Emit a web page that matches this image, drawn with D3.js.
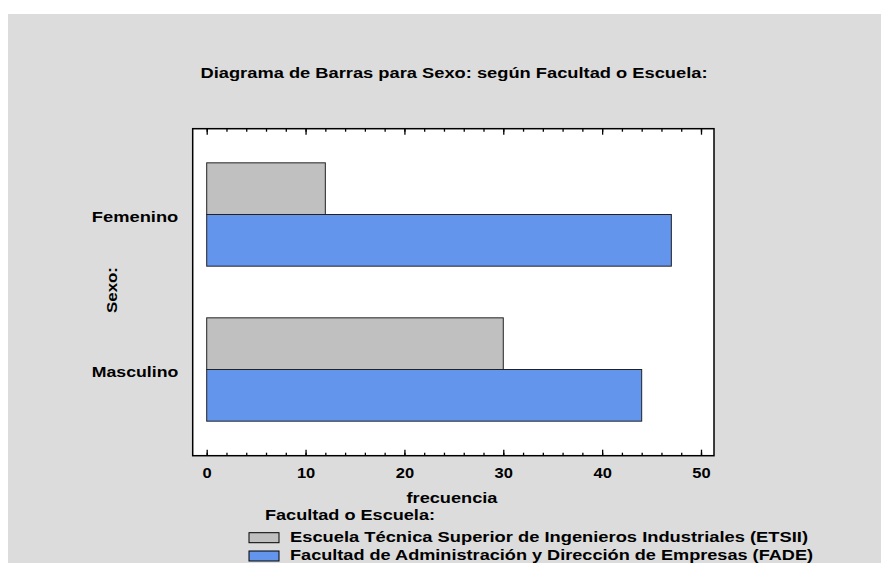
<!DOCTYPE html>
<meta charset='utf-8'>
<style>
body { margin: 0; background: #fff; }
svg text { font-family: 'Liberation Sans', Arial, sans-serif; font-weight: bold; fill: #000; }
</style>
<div id='chart'></div>
<script src='https://d3js.org/d3.v7.min.js'></script>
<script>
  // data
  var sexos = ['Femenino', 'Masculino'];
  var escuelas = ['Escuela Técnica Superior de Ingenieros Industriales (ETSII)',
                  'Facultad de Administración y Dirección de Empresas (FADE)'];
  var etsii = [12, 30];
  var fade = [47, 44];
  var majorTicks = [0, 10, 20, 30, 40, 50];
  var colores = ['#c0c0c0', '#6495ed'];

  var W = 881, H = 563;
  var frame = {left: 192.7, top: 128.7, right: 714, bottom: 455.7};

  var svg = d3.select('#chart').append('svg')
    .attr('width', W).attr('height', H);

  svg.append('rect')
    .attr('x', 8).attr('y', 14)
    .attr('width', W - 8).attr('height', H - 14)
    .attr('fill', '#dcdcdc');

  svg.append('rect')
    .attr('x', frame.left).attr('y', frame.top)
    .attr('width', frame.right - frame.left)
    .attr('height', frame.bottom - frame.top)
    .attr('fill', '#fff');

  var x = d3.scaleLinear().domain([0, 50]).range([206.7, 701]);
  var y0 = d3.scaleBand().domain(sexos).range([137, 447])
    .paddingInner(1/3).paddingOuter(1/6);
  var y1 = d3.scaleBand().domain(escuelas).range([0, y0.bandwidth()]);

  var rows = [];
  sexos.forEach(function(s, i) {
    rows.push({sexo: s, escuela: escuelas[0], v: etsii[i]});
    rows.push({sexo: s, escuela: escuelas[1], v: fade[i]});
  });

  svg.append('g').selectAll('rect')
    .data(rows)
    .enter().append('rect')
      .attr('x', x(0))
      .attr('y', function(d) { return y0(d.sexo) + y1(d.escuela); })
      .attr('width', function(d) { return x(d.v) - x(0); })
      .attr('height', y1.bandwidth())
      .attr('fill', function(d) { return colores[escuelas.indexOf(d.escuela)]; })
      .attr('stroke', '#222')
      .attr('stroke-width', 1);

  // ticks
  var minor = d3.range(0, 51, 2);
  var bottomMinor = svg.append('g')
    .attr('transform', 'translate(0,' + frame.bottom + ')')
    .call(d3.axisBottom(x).tickValues(minor).tickSize(-3).tickFormat(''));
  var bottomMajor = svg.append('g')
    .attr('transform', 'translate(0,' + frame.bottom + ')')
    .call(d3.axisBottom(x).tickValues(majorTicks).tickSize(-6).tickPadding(11.5));
  var topMinor = svg.append('g')
    .attr('transform', 'translate(0,' + frame.top + ')')
    .call(d3.axisTop(x).tickValues(minor).tickSize(-3).tickFormat(''));
  var topMajor = svg.append('g')
    .attr('transform', 'translate(0,' + frame.top + ')')
    .call(d3.axisTop(x).tickValues(majorTicks).tickSize(-6).tickFormat(''));
  [bottomMinor, bottomMajor, topMinor, topMajor].forEach(function(g) {
    g.select('.domain').remove();
    g.selectAll('line').attr('stroke', '#000').attr('stroke-width', 1.3);
  });
  bottomMajor.selectAll('text')
    .style('font-size', '15px')
    .attr('font-family', null)
    .attr('transform', 'scale(1.1,1)');

  svg.append('rect')
    .attr('x', frame.left).attr('y', frame.top)
    .attr('width', frame.right - frame.left)
    .attr('height', frame.bottom - frame.top)
    .attr('fill', 'none')
    .attr('stroke', '#000')
    .attr('stroke-width', 1.5);

  // category labels
  svg.append('g').selectAll('text')
    .data(sexos)
    .enter().append('text')
      .attr('x', 178.3)
      .attr('y', function(d) { return y0(d) + y0.bandwidth() / 2 + 7.5; })
      .attr('text-anchor', 'end')
      .style('font-size', '15px')
      .attr('textLength', 86.5)
      .attr('lengthAdjust', 'spacingAndGlyphs')
      .text(function(d) { return d; });

  svg.append('text')
    .attr('transform', 'translate(116.5,290) rotate(-90)')
    .attr('text-anchor', 'middle')
    .style('font-size', '15px')
    .attr('textLength', 46)
    .attr('lengthAdjust', 'spacingAndGlyphs')
    .text('Sexo:');

  svg.append('text')
    .attr('x', 454).attr('y', 78)
    .attr('text-anchor', 'middle')
    .style('font-size', '14px')
    .attr('textLength', 507)
    .attr('lengthAdjust', 'spacingAndGlyphs')
    .text('Diagrama de Barras para Sexo: según Facultad o Escuela:');

  svg.append('text')
    .attr('x', 452).attr('y', 502.5)
    .attr('text-anchor', 'middle')
    .style('font-size', '15px')
    .attr('textLength', 91)
    .attr('lengthAdjust', 'spacingAndGlyphs')
    .text('frecuencia');

  // legend
  svg.append('text')
    .attr('x', 265).attr('y', 520)
    .style('font-size', '15px')
    .attr('textLength', 170)
    .attr('lengthAdjust', 'spacingAndGlyphs')
    .text('Facultad o Escuela:');

  var legendWidths = [518, 523];
  var leg = svg.append('g').selectAll('g')
    .data(escuelas)
    .enter().append('g')
      .attr('transform', function(d, i) { return 'translate(0,' + (541.7 + i * 18.3) + ')'; });
  leg.append('rect')
    .attr('x', 249).attr('y', -9)
    .attr('width', 30).attr('height', 10)
    .attr('fill', function(d, i) { return colores[i]; })
    .attr('stroke', '#000');
  leg.append('text')
    .attr('x', 290)
    .style('font-size', '15px')
    .attr('textLength', function(d, i) { return legendWidths[i]; })
    .attr('lengthAdjust', 'spacingAndGlyphs')
    .text(function(d) { return d; });
</script>
